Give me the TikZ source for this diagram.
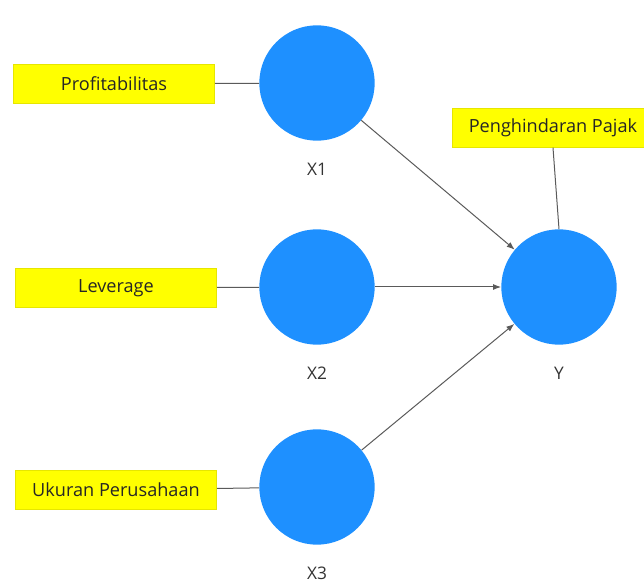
\documentclass[tikz,border=0pt]{standalone}
\usepackage{fontspec}
\setmainfont{Open Sans}
\usetikzlibrary{positioning}
\usetikzlibrary{arrows.meta}
\definecolor{latentblue}{HTML}{1E90FF}
\definecolor{boxyellow}{HTML}{FFFF00}
\definecolor{boxedge}{HTML}{E6E600}
\definecolor{linegray}{HTML}{5A5A5A}
\tikzset{latent/.style={circle, fill=latentblue, minimum size=86.5pt, inner sep=0pt},
indicator/.style={rectangle, fill=boxyellow, draw=boxedge, line width=0.5pt,
minimum width=151pt, minimum height=29pt, inner sep=0pt, text=black!85,
font=\fontsize{13.6}{15}\selectfont},
caption/.style={font=\fontsize{13}{15}\selectfont, text=black!80, below=13pt of #1},
path/.style={draw=linegray, line width=0.75pt, -{Latex[length=6pt,width=4.5pt]}},
link/.style={draw=linegray, line width=0.75pt}}

\begin{document}
\begin{tikzpicture}[x=0.75pt, y=-0.75pt]
	\useasboundingbox (0,0) rectangle (644,584);
	% latent variables
	\node[latent] (x1) at (317,83) {};
	\node[latent] (x2) at (317,287) {};
	\node[latent] (x3) at (317,487) {};
	\node[latent] (y) at (559,287) {};
	\node[caption=x1] (lx1) {X1};
	\node[caption=x2] (lx2) {X2};
	\node[caption=x3] (lx3) {X3};
	\node[caption=y] (ly) {Y};
	% indicators
	\node[indicator] (prof) at (114,84) {Profitabilitas};
	\node[indicator] (lev) at (116,288) {Leverage};
	\node[indicator] (size) at (116,490) {Ukuran Perusahaan};
	\node[indicator] (tax) at (553,128) {Penghindaran Pajak};
	% connectors
	\draw[link] (prof) -- (x1);
	\draw[link] (lev) -- (x2);
	\draw[link] (size) -- (x3);
	\draw[link] (tax.south) -- (y.north);
	\draw[path] (x1) -- (y);
	\draw[path] (x2) -- (y);
	\draw[path] (x3) -- (y);
\end{tikzpicture}
\end{document}
